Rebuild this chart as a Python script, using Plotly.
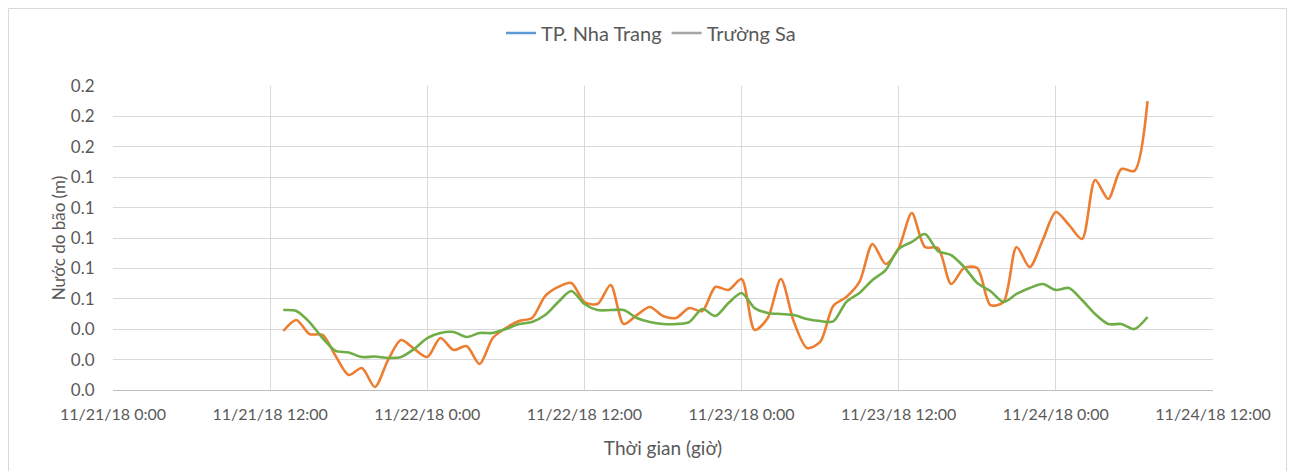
import pandas as pd
import plotly.graph_objects as go

# Hourly timestamps 11/21/18 13:00 .. 11/24/18 07:00
times = pd.date_range("2018-11-21 13:00", periods=67, freq="h")

orange_vals = [
    0.0388, 0.0461, 0.0368, 0.0362, 0.0224, 0.0099, 0.0145, 0.0020, 0.0197, 0.0329,
    0.0270, 0.0217, 0.0342, 0.0263, 0.0289, 0.0171, 0.0342, 0.0408, 0.0454, 0.0474,
    0.0618, 0.0678, 0.0704, 0.0579, 0.0566, 0.0691, 0.0434, 0.0493, 0.0546, 0.0487,
    0.0474, 0.0539, 0.0520, 0.0678, 0.0658, 0.0730, 0.0395, 0.0474, 0.0730, 0.0447,
    0.0276, 0.0316, 0.0553, 0.0612, 0.0711, 0.0961, 0.0829, 0.0934, 0.1164, 0.0941,
    0.0934, 0.0697, 0.0803, 0.0803, 0.0559, 0.0579, 0.0941, 0.0809, 0.0987, 0.1171,
    0.1086, 0.0993, 0.1382, 0.1257, 0.1454, 0.1441, 0.1901,
]

green_vals = [
    0.0526, 0.0520, 0.0447, 0.0342, 0.0257, 0.0247, 0.0217, 0.0220, 0.0211, 0.0217,
    0.0270, 0.0342, 0.0375, 0.0382, 0.0349, 0.0375, 0.0375, 0.0401, 0.0434, 0.0447,
    0.0493, 0.0579, 0.0651, 0.0566, 0.0526, 0.0526, 0.0526, 0.0474, 0.0447, 0.0434,
    0.0434, 0.0447, 0.0533, 0.0487, 0.0572, 0.0638, 0.0539, 0.0507, 0.0500, 0.0493,
    0.0467, 0.0454, 0.0451, 0.0579, 0.0638, 0.0724, 0.0789, 0.0928, 0.0974, 0.1026,
    0.0914, 0.0888, 0.0809, 0.0704, 0.0651, 0.0579, 0.0632, 0.0671, 0.0697, 0.0658,
    0.0671, 0.0592, 0.0500, 0.0434, 0.0434, 0.0401, 0.0480,
]

legend_names = ["TP. Nha Trang", "Trường Sa"]

x_tick_vals = ["2018-11-21 00:00", "2018-11-21 12:00", "2018-11-22 00:00", "2018-11-22 12:00",
               "2018-11-23 00:00", "2018-11-23 12:00", "2018-11-24 00:00", "2018-11-24 12:00"]
x_tick_text = ["11/21/18 0:00", "11/21/18 12:00", "11/22/18 0:00", "11/22/18 12:00",
               "11/23/18 0:00", "11/23/18 12:00", "11/24/18 0:00", "11/24/18 12:00"]

FONT = "Lato, 'Open Sans', sans-serif"
TXT = "#595959"

fig = go.Figure()
fig.add_trace(go.Scatter(x=times, y=orange_vals, mode="lines",
                         line=dict(color="#ed7d31", width=2.6, shape="spline", smoothing=0.8),
                         showlegend=False, name="s1"))
fig.add_trace(go.Scatter(x=times, y=green_vals, mode="lines",
                         line=dict(color="#70ad47", width=2.6, shape="spline", smoothing=0.8),
                         showlegend=False, name="s2"))
# legend entries as shown in the reference
fig.add_trace(go.Scatter(x=[None], y=[None], mode="lines", line=dict(color="#5b9bd5", width=2.6), name=legend_names[0]))
fig.add_trace(go.Scatter(x=[None], y=[None], mode="lines", line=dict(color="#a5a5a5", width=2.6), name=legend_names[1]))

# page has an 8px body margin: figure origin sits at page (8, 8)
OFF = 8
W, H = 1295 - OFF, 471 - OFF
L, R, T, B = 113, 1213, 86, 390  # plot area in page pixels
def px(x):
    return (x - L) / (R - L)
def py(y):
    return (B - y) / (B - T)

shapes = [
    dict(type="rect", xref="paper", yref="paper", x0=px(8.5), x1=px(1286.5), y0=py(490), y1=py(8.5),
         line=dict(color="#d9d9d9", width=1), fillcolor="rgba(0,0,0,0)", layer="below"),
]

fig.update_layout(
    width=W, height=H,
    margin=dict(l=L - OFF, r=1295 - R, t=T - OFF, b=471 - B, pad=0, autoexpand=False),
    paper_bgcolor="white", plot_bgcolor="white",
    font=dict(family=FONT, size=16, color=TXT),
    showlegend=True,
    legend=dict(orientation="h", x=px(651), xanchor="center", y=py(33), yanchor="middle",
                font=dict(family=FONT, size=20, color=TXT), itemwidth=30,
                bgcolor="rgba(0,0,0,0)", traceorder="normal"),
    shapes=shapes,
    xaxis=dict(type="date", range=["2018-11-21 00:00", "2018-11-24 12:00"],
               tickmode="array", tickvals=x_tick_vals, ticktext=x_tick_text,
               showgrid=True, gridcolor="#d9d9d9", gridwidth=1,
               showline=True, linecolor="#bfbfbf", linewidth=1,
               ticks="outside", ticklen=10, tickcolor="rgba(0,0,0,0)",
               tickfont=dict(family=FONT, size=16, color=TXT),
               title=dict(text="Thời gian (giờ)", font=dict(family=FONT, size=19, color=TXT), standoff=19),
               zeroline=False),
    yaxis=dict(range=[0, 0.2], dtick=0.02, tick0=0, tickformat=".1f",
               showgrid=True, gridcolor="#d9d9d9", gridwidth=1,
               showline=False, zeroline=False,
               ticks="outside", ticklen=14, tickcolor="rgba(0,0,0,0)",
               tickfont=dict(family=FONT, size=17, color=TXT),
               title=dict(text="Nước do bão (m)", font=dict(family=FONT, size=17, color=TXT), standoff=0)),
)

fig.write_html("out.html")
